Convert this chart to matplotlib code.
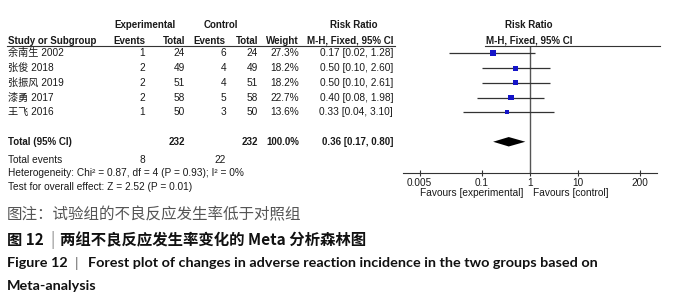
import matplotlib.pyplot as plt
import matplotlib.transforms as mtransforms
from matplotlib.lines import Line2D
import numpy as np

plt.rcParams['font.family'] = ['Liberation Sans', 'Noto Sans CJK SC']

# study rows
studies = ['余南生 2002', '张俊 2018', '张振风 2019', '漆勇 2017', '王飞 2016']
exp_events = [1, 2, 2, 2, 1]
exp_total = [24, 49, 51, 58, 50]
ctl_events = [6, 4, 4, 5, 3]
ctl_total = [24, 49, 51, 58, 50]
weights = [27.3, 18.2, 18.2, 22.7, 13.6]
rr = [0.17, 0.50, 0.50, 0.40, 0.33]
ci_low = [0.02, 0.10, 0.10, 0.08, 0.04]
ci_high = [1.28, 2.60, 2.61, 1.98, 3.10]

# pooled result
total_exp, total_ctl = 232, 232
events_exp, events_ctl = 8, 22
total_rr, total_low, total_high = 0.36, 0.17, 0.80

ticks = [0.005, 0.1, 1, 10, 200]
tick_labels = ['0.005', '0.1', '1', '10', '200']

W, H = 676, 300
TXT = '#1a1a1a'


def px(x):
    return x / W


fig = plt.figure(figsize=(W / 100, H / 100), dpi=100)
ax = fig.add_axes([px(403), 1 - 173 / H, px(657 - 403), (173 - 47) / H])
ax.set_xscale('log')
ax.set_xlim(10 ** -2.65, 10 ** 2.65)
ax.set_ylim(8.12, -0.43)

rows = np.arange(len(studies))
total_row = 6.0

ax.axvline(1, color='#555555', lw=1)
ax.hlines(rows, ci_low, ci_high, color='#333333', lw=0.9)
ax.scatter(rr, rows, s=[0.72 * w for w in weights], marker='s',
           color='#1414c8', zorder=3, linewidths=0)
h = 0.32
ax.fill([total_low, total_rr, total_high, total_rr],
        [total_row, total_row - h, total_row, total_row + h],
        color='black', lw=0)

for s in ['top', 'left', 'right']:
    ax.spines[s].set_visible(False)
ax.spines['bottom'].set_color('#333333')
ax.spines['bottom'].set_linewidth(0.8)
ax.set_yticks([])
ax.set_xticks(ticks)
ax.set_xticklabels(tick_labels)
ax.minorticks_off()
ax.tick_params(axis='x', direction='inout', length=5, width=0.8,
               labelsize=7.2, pad=1, colors='#333333', labelcolor=TXT)

tr = mtransforms.blended_transform_factory(fig.transFigure, ax.transData)


def t(x, y, s, ha='left', bold=False, **kw):
    fig.text(px(x), y, s, transform=tr, ha=ha, va='center',
             fontsize=7 if bold else 7.3,
             color=TXT, fontweight='bold' if bold else 'normal', **kw)


# headers
hy1, hy2 = -1.92, -0.85
t(145, hy1, 'Experimental', ha='center', bold=True)
t(221, hy1, 'Control', ha='center', bold=True)
t(354, hy1, 'Risk Ratio', ha='center', bold=True)
t(529, hy1, 'Risk Ratio', ha='center', bold=True)
t(8, hy2, 'Study or Subgroup', bold=True)
t(113, hy2, 'Events', bold=True)
t(185, hy2, 'Total', ha='right', bold=True)
t(225, hy2, 'Events', ha='right', bold=True)
t(258, hy2, 'Total', ha='right', bold=True)
t(299, hy2, 'Weight', ha='right', bold=True)
t(350, hy2, 'M-H, Fixed, 95% CI', ha='center', bold=True)
t(529, hy2, 'M-H, Fixed, 95% CI', ha='center', bold=True)

line_y = -0.52
for x0, x1 in [(7, 395), (485, 660)]:
    fig.add_artist(Line2D([px(x0), px(x1)], [line_y, line_y], transform=tr,
                          color='#333333', lw=0.8))

for i, name in enumerate(studies):
    t(8, i, name)
    t(145, i, str(exp_events[i]), ha='right')
    t(185, i, str(exp_total[i]), ha='right')
    t(226, i, str(ctl_events[i]), ha='right')
    t(258, i, str(ctl_total[i]), ha='right')
    t(299, i, f'{weights[i]:.1f}%', ha='right')
    t(393, i, f'{rr[i]:.2f} [{ci_low[i]:.2f}, {ci_high[i]:.2f}]', ha='right')

t(8, total_row, 'Total (95% CI)', bold=True)
t(185, total_row, str(total_exp), ha='right', bold=True)
t(258, total_row, str(total_ctl), ha='right', bold=True)
t(299, total_row, '100.0%', ha='right', bold=True)
t(393, total_row, f'{total_rr:.2f} [{total_low:.2f}, {total_high:.2f}]',
  ha='right', bold=True)
t(8, 7.23, 'Total events')
t(145, 7.23, str(events_exp), ha='right')
t(226, 7.23, str(events_ctl), ha='right')
t(8, 8.14, 'Heterogeneity: Chi² = 0.87, df = 4 (P = 0.93); I² = 0%')
t(8, 9.04, 'Test for overall effect: Z = 2.52 (P = 0.01)')

t(523, 9.47, 'Favours [experimental]', ha='right')
t(533, 9.47, 'Favours [control]')

# caption
cjk = ['Noto Sans CJK SC', 'DejaVu Sans']
fig.text(px(7), 1 - 215 / H, '图注：试验组的不良反应发生率低于对照组', fontsize=11.2,
         family=cjk, color='#555555', va='center')
fig.text(px(7), 1 - 240 / H, '图 12', fontsize=11, family=cjk,
         fontweight='bold', color='#111111', va='center')
fig.text(px(52), 1 - 240 / H, '|', fontsize=11, family=cjk,
         color='#888888', va='center', ha='center')
fig.text(px(60), 1 - 240 / H, '两组不良反应发生率变化的 Meta 分析森林图', fontsize=11.1,
         family=cjk, fontweight='bold', color='#111111', va='center')
en = ['Lato', 'DejaVu Sans']
fig.text(px(7), 1 - 263 / H, 'Figure 12', fontsize=10.4, family=en,
         fontweight='bold', color='#111111', va='center')
fig.text(px(77), 1 - 263 / H, '|', fontsize=10.4, family=en,
         color='#666666', va='center', ha='center')
fig.text(px(88), 1 - 263 / H,
         'Forest plot of changes in adverse reaction incidence in the two groups based on',
         fontsize=10.4, family=en, fontweight='bold', color='#111111', va='center')
fig.text(px(7), 1 - 286 / H, 'Meta-analysis', fontsize=10.4, family=en,
         fontweight='bold', color='#111111', va='center')

fig.savefig('out.png', dpi=100, facecolor='white')
